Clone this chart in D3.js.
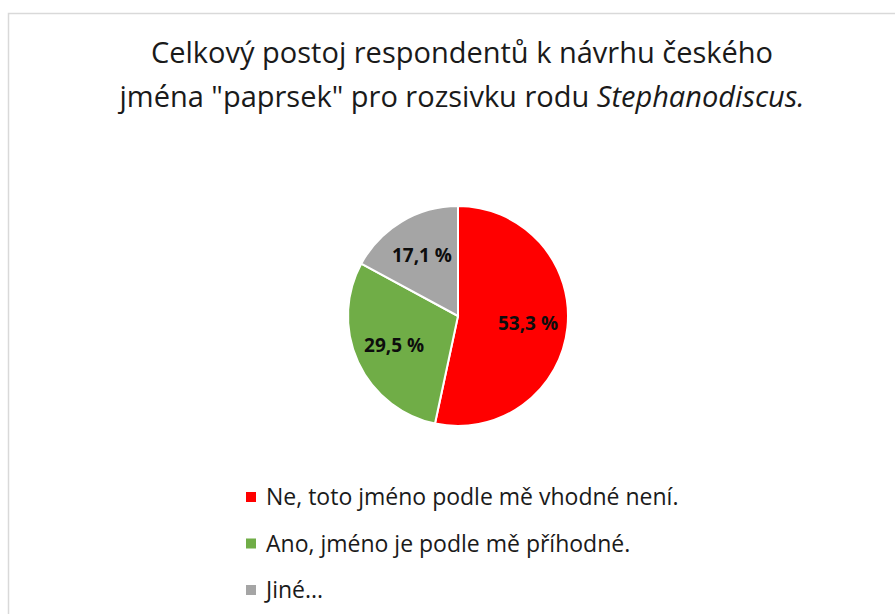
<!DOCTYPE html>
<html>
<head>
<meta charset="utf-8">
<script src="https://cdn.jsdelivr.net/npm/d3@7"></script>
<style>
  body { margin: 0; background: #fff; }
  svg text { font-family: "Open Sans", sans-serif; }
</style>
</head>
<body>
<div id="chart"></div>
<script>
// answer categories and their shares (percent)
var categories = ["Ne, toto jméno podle mě vhodné není.", "Ano, jméno je podle mě příhodné.", "Jiné..."];
var shares = [53.3, 29.5, 17.1];
var labels = ["53,3 %", "29,5 %", "17,1 %"];
var sliceColors = ["#ff0000", "#70ad47", "#a5a5a5"];

var width = 895, height = 614;
var radius = 110;
var cx = 458, cy = 316;

var svg = d3.select("#chart").append("svg")
  .attr("width", width)
  .attr("height", height);

// chart area border (only top and left are visible in the crop)
svg.append("path")
  .attr("d", "M8.5," + height + " V13.5 H" + width)
  .attr("fill", "none")
  .attr("stroke", "#d9d9d9")
  .attr("stroke-width", 1.5);

// title
var title = svg.append("text")
  .attr("text-anchor", "middle")
  .style("font-size", "29px")
  .style("fill", "#1a1a1a");
title.append("tspan").attr("x", 462).attr("y", 63)
  .text("Celkový postoj respondentů k návrhu českého");
var t2 = title.append("tspan").attr("x", 462).attr("y", 107);
t2.append("tspan").text("jména \"paprsek\" pro rozsivku rodu ");
t2.append("tspan").style("font-style", "italic").text("Stephanodiscus.");

var data = categories.map(function (c, i) {
  return { name: c, value: shares[i], label: labels[i], color: sliceColors[i] };
});

var pie = d3.pie()
  .sort(null)
  .value(function (d) { return d.value; });

var arc = d3.arc().innerRadius(0).outerRadius(radius);
var labelArc = d3.arc().innerRadius(radius * 0.64).outerRadius(radius * 0.64);

var g = svg.append("g")
  .attr("transform", "translate(" + cx + "," + cy + ")");

var slices = g.selectAll("g.slice")
  .data(pie(data))
  .enter().append("g")
  .attr("class", "slice");

slices.append("path")
  .attr("d", arc)
  .attr("fill", function (d) { return d.data.color; })
  .attr("stroke", "#fff")
  .attr("stroke-width", 2);

slices.append("text")
  .attr("transform", function (d) { return "translate(" + labelArc.centroid(d) + ")"; })
  .attr("text-anchor", "middle")
  .attr("dy", "0.35em")
  .style("font-size", "19px")
  .style("font-weight", "bold")
  .style("fill", "#0d0d0d")
  .text(function (d) { return d.data.label; });

// legend
var legendY = d3.scalePoint()
  .domain(categories)
  .range([497, 590]);

var legend = svg.selectAll("g.legend")
  .data(data)
  .enter().append("g")
  .attr("class", "legend")
  .attr("transform", function (d) { return "translate(246," + legendY(d.name) + ")"; });

legend.append("rect")
  .attr("x", 0)
  .attr("y", -5)
  .attr("width", 10)
  .attr("height", 10)
  .attr("fill", function (d) { return d.color; });

legend.append("text")
  .attr("x", 20)
  .attr("dy", "0.35em")
  .style("font-size", "23px")
  .style("fill", "#1a1a1a")
  .text(function (d) { return d.name; });
</script>
</body>
</html>
